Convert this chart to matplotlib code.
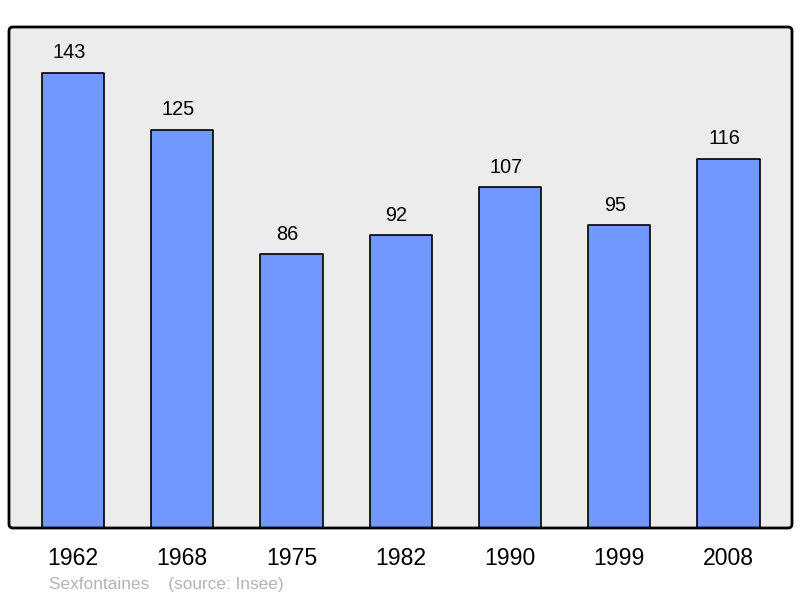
import matplotlib
matplotlib.use("Agg")
import matplotlib.pyplot as plt
from matplotlib.patches import FancyBboxPatch

years = ["1962", "1968", "1975", "1982", "1990", "1999", "2008"]
population = [143, 125, 86, 92, 107, 95, 116]
footer = "Sexfontaines    (source: Insee)"

plt.rcParams['font.family'] = ['Liberation Sans', 'DejaVu Sans']

fig = plt.figure(figsize=(8.0, 5.98), dpi=100)
ax = fig.add_axes([9/800, 70/598, 783/800, 501/598])
ax.set_facecolor('#ececec')

x = list(range(len(years)))
bars = ax.bar(x, population, width=0.57, color='#7098ff', edgecolor='#000000',
              linewidth=1.2, joinstyle='round', zorder=2)
for xi, v in zip(x, population):
    ax.annotate(str(v), (xi, v), xytext=(-3, 7.5), textcoords='offset points',
                ha='center', va='bottom', fontsize=14.3, color='#000000')

ax.set_xlim(-0.585, len(years) - 1 + 0.58)
ax.set_ylim(0, max(population) * 1.1)
ax.set_yticks([])
ax.set_xticks(x)
ax.set_xticklabels(years, fontsize=16.6)
ax.tick_params(axis='x', length=0, pad=13.5)
for s in ax.spines.values():
    s.set_visible(False)

frame = FancyBboxPatch((0.09, 0.70), 7.83, 5.01,
                       boxstyle="round,pad=0,rounding_size=0.04",
                       transform=fig.dpi_scale_trans, facecolor='none',
                       edgecolor='#000000', linewidth=2, zorder=5)
fig.add_artist(frame)

fig.text(49/800, 1 - 584/598, footer, fontsize=12.4, color='#b4b4b4', ha='left', va='center')

fig.savefig('out.png', dpi=100)
